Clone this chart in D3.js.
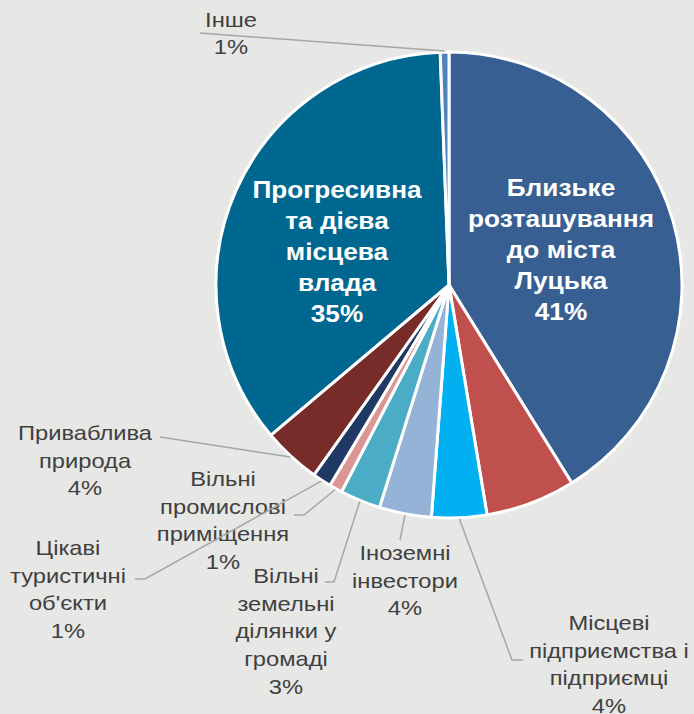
<!DOCTYPE html>
<html>
<head>
<meta charset="utf-8">
<script src="https://cdn.jsdelivr.net/npm/d3@7"></script>
<style>
  body { margin: 0; background: #e7e7e5; }
  svg { display: block; font-family: "Liberation Sans", Arial, sans-serif; }
  .outer-label { fill: #404040; font-size: 21px; }
  .inner-label { fill: #ffffff; font-size: 23px; font-weight: bold; }
  .leader { fill: none; stroke: #a6a6a6; stroke-width: 1.5; }
</style>
</head>
<body>
<svg class="chart"></svg>
<script>
// slice data, clockwise from 12 o'clock
const categories = [
    ["Близьке", "розташування", "до міста", "Луцька"],
    [],
    ["Місцеві", "підприємства і", "підприємці"],
    ["Іноземні", "інвестори"],
    ["Вільні", "земельні", "ділянки у", "громаді"],
    ["Вільні", "промислові", "приміщення"],
    ["Цікаві", "туристичні", "об'єкти"],
    ["Приваблива", "природа"],
    ["Прогресивна", "та дієва", "місцева", "влада"],
    ["Інше"]
]
const values = [41, 6.2, 3.8, 3.6, 2.8, 0.9, 1.3, 4.0, 35.4, 0.6]
const colors = ["#375f92", "#c0504d", "#00b0f0", "#95b3d7", "#4bacc6",
                "#d99694", "#1f3864", "#772c2a", "#006890", "#4f81bd"]

function setGraph() {
    var width = 694, height = 714
    var cx = 449, cy = 285, radius = 233

    var svg = d3.select(".chart")
        .attr("width", width)
        .attr("height", height)

    var graph = svg.append("g")
        .attr("transform", `translate(${cx},${cy})`)

    const pie = d3.pie().sort(null).value(d => d.value)
    const arc = d3.arc().innerRadius(0).outerRadius(radius)

    const data = values.map((v, i) => ({
        value: v, lines: categories[i], color: colors[i],
        pct: Math.round(v) + "%"
    }))
    const arcs = pie(data)

    graph.selectAll("path.slice")
        .data(arcs)
        .enter().append("path")
        .attr("class", "slice")
        .attr("d", arc)
        .attr("fill", d => d.data.color)
        .attr("stroke", "#ffffff")
        .attr("stroke-width", 3)
        .attr("stroke-linejoin", "round")

    // label layout: text centre x, first baseline y, leader elbow points
    const layout = [
        {type: "inner", x: 561, y: 196},
        null,
        {type: "outer", x: 609, y: 630, leader: [[523, 660], [512, 660]]},
        {type: "outer", x: 405, y: 560, leader: [[400, 540]]},
        {type: "outer", x: 286, y: 583, leader: [[325, 582], [334, 582]]},
        {type: "outer", x: 223, y: 486, leader: [[294, 515], [304, 515]]},
        {type: "outer", x: 68, y: 555, leader: [[135, 579], [145, 579]]},
        {type: "outer", x: 85, y: 440, leader: [[160, 437]]},
        {type: "inner", x: 337, y: 198},
        {type: "outer", x: 231, y: 27, leader: [[200, 33]], lineH: 27}
    ]

    const edge = d3.arc().innerRadius(radius + 1).outerRadius(radius + 1)

    // the source text is a bit wider than Arial, so stretch it horizontally
    function addText(cls, l, lines, lh, sx) {
        const t = svg.append("text")
            .attr("class", cls)
            .attr("text-anchor", "middle")
            .attr("transform", `translate(${l.x},0) scale(${sx},1)`)
        lines.forEach((s, j) => {
            t.append("tspan").attr("x", 0).attr("y", l.y + j * lh).text(s)
        })
    }

    arcs.forEach((a, i) => {
        const l = layout[i]
        if (!l) return
        const lines = a.data.lines.concat([a.data.pct])
        if (l.type === "inner") {
            addText("inner-label", l, lines, 31, 1.14)
            return
        }
        // leader line from the slice edge out to the label
        const c = edge.centroid(a)
        const pts = [[c[0] + cx, c[1] + cy]].concat(l.leader.slice().reverse())
        svg.append("path")
            .attr("class", "leader")
            .attr("d", d3.line()(pts))
        addText("outer-label", l, lines, l.lineH || 27.7, 1.13)
    })
}

setGraph()
</script>
</body>
</html>
